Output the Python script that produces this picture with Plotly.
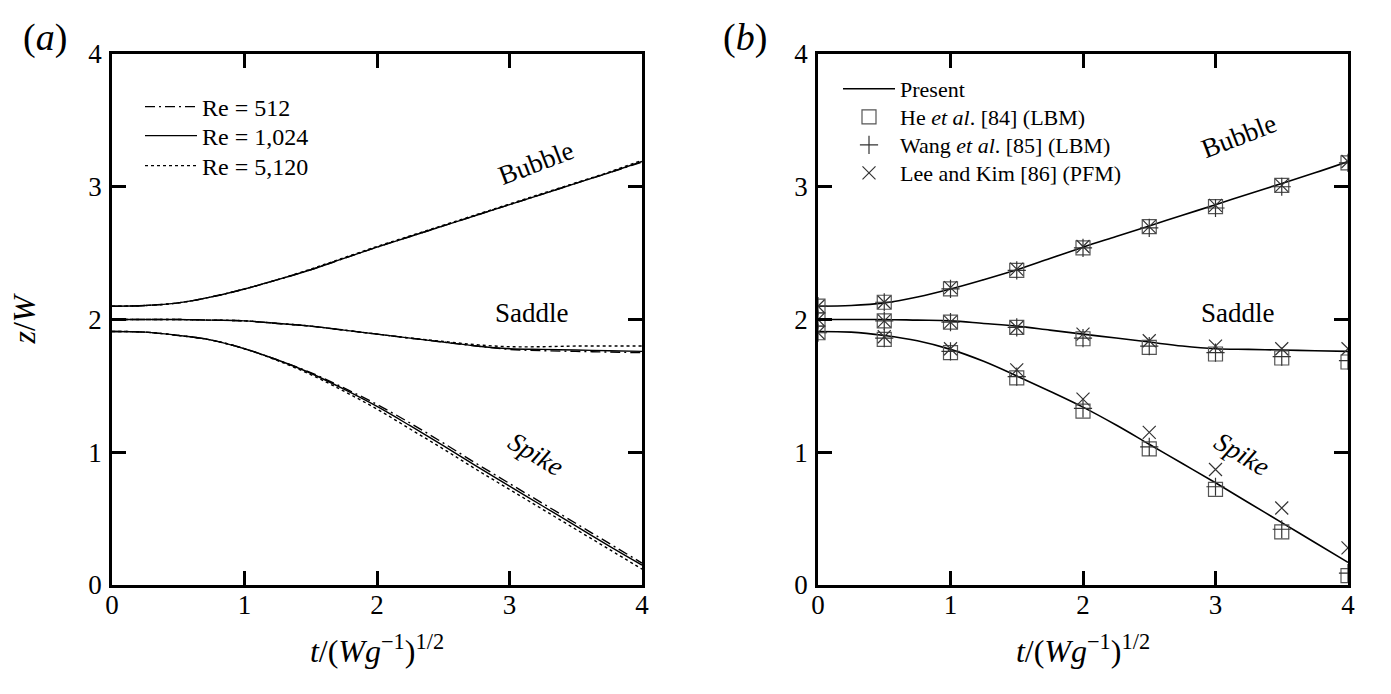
import plotly.graph_objects as go

# ---------------- data ----------------
t_curve = [0, 0.25, 0.5, 0.75, 1, 1.25, 1.5, 1.75, 2, 2.25, 2.5, 2.75, 3, 3.25, 3.5, 3.75, 4]

# panel (a) : three Reynolds numbers
bubble_re512 = [2.10, 2.105, 2.125, 2.17, 2.23, 2.30, 2.375, 2.46, 2.545, 2.625, 2.705, 2.785, 2.865, 2.945, 3.025, 3.105, 3.185]
bubble_re1024 = [2.10, 2.105, 2.125, 2.17, 2.23, 2.30, 2.375, 2.46, 2.545, 2.625, 2.705, 2.785, 2.865, 2.945, 3.025, 3.105, 3.19]
bubble_re5120 = [2.10, 2.105, 2.125, 2.17, 2.23, 2.30, 2.38, 2.465, 2.55, 2.63, 2.71, 2.79, 2.87, 2.95, 3.03, 3.11, 3.20]

saddle_re512 = [2.00, 2.00, 2.00, 1.995, 1.99, 1.97, 1.95, 1.92, 1.89, 1.86, 1.83, 1.80, 1.775, 1.765, 1.76, 1.755, 1.75]
saddle_re1024 = [2.00, 2.00, 2.00, 1.995, 1.99, 1.97, 1.95, 1.92, 1.89, 1.86, 1.83, 1.80, 1.78, 1.775, 1.77, 1.765, 1.76]
saddle_re5120 = [2.00, 2.00, 2.00, 1.995, 1.99, 1.97, 1.95, 1.92, 1.89, 1.86, 1.835, 1.81, 1.795, 1.795, 1.80, 1.80, 1.80]

spike_re512 = [1.91, 1.905, 1.88, 1.845, 1.78, 1.695, 1.60, 1.485, 1.36, 1.22, 1.07, 0.915, 0.765, 0.615, 0.465, 0.315, 0.165]
spike_re1024 = [1.91, 1.905, 1.88, 1.845, 1.78, 1.695, 1.595, 1.475, 1.345, 1.20, 1.05, 0.895, 0.745, 0.595, 0.445, 0.295, 0.15]
spike_re5120 = [1.91, 1.905, 1.88, 1.845, 1.78, 1.69, 1.585, 1.46, 1.325, 1.175, 1.025, 0.87, 0.72, 0.57, 0.42, 0.27, 0.12]

# panel (b) : present results
bubble_present = [2.10, 2.105, 2.125, 2.17, 2.23, 2.30, 2.375, 2.46, 2.545, 2.625, 2.705, 2.785, 2.865, 2.945, 3.025, 3.105, 3.19]
saddle_present = [2.00, 2.00, 2.00, 1.995, 1.99, 1.97, 1.95, 1.92, 1.89, 1.86, 1.83, 1.80, 1.78, 1.775, 1.77, 1.765, 1.76]
spike_present = [1.91, 1.905, 1.88, 1.84, 1.775, 1.685, 1.575, 1.46, 1.34, 1.205, 1.06, 0.915, 0.77, 0.62, 0.47, 0.32, 0.17]

t_ref = [0, 0.5, 1, 1.5, 2, 2.5, 3, 3.5, 4]
he_bubble = [2.10, 2.13, 2.23, 2.37, 2.54, 2.70, 2.85, 3.01, 3.18]
he_saddle = [2.00, 1.99, 1.98, 1.94, 1.855, 1.79, 1.74, 1.71, 1.68]
he_spike = [1.90, 1.85, 1.75, 1.56, 1.31, 1.025, 0.72, 0.40, 0.07]

wang_bubble = [2.10, 2.13, 2.23, 2.37, 2.54, 2.69, 2.84, 3.00, 3.18]
wang_saddle = [2.00, 1.99, 1.98, 1.94, 1.86, 1.80, 1.75, 1.72, 1.69]
wang_spike = [1.90, 1.86, 1.76, 1.57, 1.33, 1.04, 0.74, 0.42, 0.09]

lee_bubble = [2.10, 2.13, 2.24, 2.38, 2.55, 2.70, 2.86, 3.01, 3.19]
lee_saddle = [2.00, 1.99, 1.98, 1.94, 1.89, 1.84, 1.80, 1.78, 1.78]
lee_spike = [1.90, 1.87, 1.78, 1.62, 1.40, 1.15, 0.87, 0.58, 0.28]

tick_vals = [0, 1, 2, 3, 4]
tick_text = ["0", "1", "2", "3", "4"]

FONT = "Liberation Serif, Times New Roman, Times, serif"

W, H = 1391, 694
ML, MR, MT, MB = 112, 43, 54, 109
PW = W - ML - MR
PH = H - MT - MB


def px(xp):
    return (xp - ML) / PW


def py(yp):
    return 1 - (yp - MT) / PH


fig = go.Figure()
legend_layouts = {}

# ---------------- panel (a) ----------------
re_styles = [
    ("Re = 512", [bubble_re512, saddle_re512, spike_re512], "10px,4px,2px,4px", 107),
    ("Re = 1,024", [bubble_re1024, saddle_re1024, spike_re1024], "solid", 136),
    ("Re = 5,120", [bubble_re5120, saddle_re5120, spike_re5120], "3px,3px", 166),
]
leg_idx = 1
for name, curves, dash, row_y in re_styles:
    lname = "legend" if leg_idx == 1 else f"legend{leg_idx}"
    legend_layouts[lname] = dict(x=px(140), y=py(row_y), xanchor="left", yanchor="middle",
                                 bgcolor="rgba(0,0,0,0)", font=dict(family=FONT, size=24),
                                 itemwidth=52)
    for i, ys in enumerate(curves):
        fig.add_trace(go.Scatter(
            x=t_curve, y=ys, mode="lines", name=name,
            line=dict(color="black", width=1.4, dash=dash, shape="spline"),
            xaxis="x", yaxis="y", legend=lname,
            showlegend=(i == 0), legendgroup=name,
        ))
    leg_idx += 1

# ---------------- panel (b) ----------------
lname = f"legend{leg_idx}"
legend_layouts[lname] = dict(x=px(838), y=py(89), xanchor="left", yanchor="middle",
                             bgcolor="rgba(0,0,0,0)", font=dict(family=FONT, size=22),
                             itemwidth=52)
for i, ys in enumerate([bubble_present, saddle_present, spike_present]):
    fig.add_trace(go.Scatter(
        x=t_curve, y=ys, mode="lines", name="Present",
        line=dict(color="black", width=1.6, shape="spline"),
        xaxis="x2", yaxis="y2", legend=lname,
        showlegend=(i == 0), legendgroup="present",
    ))
leg_idx += 1

ref_sets = [
    ("He <i>et al</i>. [84] (LBM)", [he_bubble, he_saddle, he_spike], "square-open", 14, "#555555", 117),
    ("Wang <i>et al</i>. [85] (LBM)", [wang_bubble, wang_saddle, wang_spike], "cross-thin-open", 13, "#333333", 145),
    ("Lee and Kim [86] (PFM)", [lee_bubble, lee_saddle, lee_spike], "x-thin-open", 13, "#333333", 173),
]
for name, sets, sym, size, col, row_y in ref_sets:
    lname = f"legend{leg_idx}"
    legend_layouts[lname] = dict(x=px(838), y=py(row_y), xanchor="left", yanchor="middle",
                                 bgcolor="rgba(0,0,0,0)", font=dict(family=FONT, size=22),
                                 itemwidth=52)
    for i, ys in enumerate(sets):
        fig.add_trace(go.Scatter(
            x=t_ref, y=ys, mode="markers", name=name,
            marker=dict(symbol=sym, size=size, color=col, line=dict(color=col, width=1.2)),
            xaxis="x2", yaxis="y2", legend=lname,
            showlegend=(i == 0), legendgroup=name,
        ))
    leg_idx += 1

# ---------------- axes ----------------
axis_common = dict(
    range=[0, 4], tickvals=tick_vals, ticktext=tick_text,
    showline=True, linewidth=2.5, linecolor="black", mirror="ticks",
    ticks="inside", ticklen=14, tickwidth=2.5, tickcolor="black",
    showgrid=False, zeroline=False, automargin=False,
    tickfont=dict(family=FONT, size=27, color="black"),
)
xdom_a = [0, (642 - ML) / PW]
xdom_b = [(818 - ML) / PW, 1]

xtitle = "<i>t</i>/(<i>Wg</i><sup>\u22121</sup>)<sup>1/2</sup>"
title_font = dict(family=FONT, size=32, color="black")
fig.update_layout(
    width=W, height=H,
    margin=dict(l=ML, r=MR, t=MT, b=MB, autoexpand=False),
    paper_bgcolor="white", plot_bgcolor="white",
    font=dict(family=FONT, color="black"),
    xaxis=dict(domain=xdom_a, anchor="y", **axis_common, ticklabelstandoff=-6,
               title=dict(text=xtitle, font=title_font, standoff=21)),
    yaxis=dict(domain=[0, 1], anchor="x", **axis_common, ticklabelstandoff=2,
               title=dict(text="<i>z</i>/<i>W</i>", font=title_font, standoff=44)),
    xaxis2=dict(domain=xdom_b, anchor="y2", **axis_common, ticklabelstandoff=-6,
                title=dict(text=xtitle, font=title_font, standoff=21)),
    yaxis2=dict(domain=[0, 1], anchor="x2", **axis_common, ticklabelstandoff=2),
    **legend_layouts,
)

ann_font = dict(family=FONT, size=27, color="black")
annotations = [
    dict(text="(<i>a</i>)", x=px(45), y=py(38), xref="paper", yref="paper",
         xanchor="center", yanchor="middle", showarrow=False,
         font=dict(family=FONT, size=38, color="black")),
    dict(text="(<i>b</i>)", x=px(745), y=py(38), xref="paper", yref="paper",
         xanchor="center", yanchor="middle", showarrow=False,
         font=dict(family=FONT, size=38, color="black")),
]
label_pos = {"x": (3.2, 3.18), "x2": (3.18, 3.38)}
for xr, yr in [("x", "y"), ("x2", "y2")]:
    bx, by = label_pos[xr]
    annotations += [
        dict(text="Bubble", x=bx, y=by, xref=xr, yref=yr, showarrow=False,
             xanchor="center", yanchor="middle", textangle=-21, font=ann_font),
        dict(text="Saddle", x=3.17, y=2.05, xref=xr, yref=yr, showarrow=False,
             xanchor="center", yanchor="middle", font=ann_font),
        dict(text="<i>Spike</i>", x=3.2, y=0.99, xref=xr, yref=yr, showarrow=False,
             xanchor="center", yanchor="middle", textangle=31, font=ann_font),
    ]
fig.update_layout(annotations=annotations)

fig.write_html("out.html")
